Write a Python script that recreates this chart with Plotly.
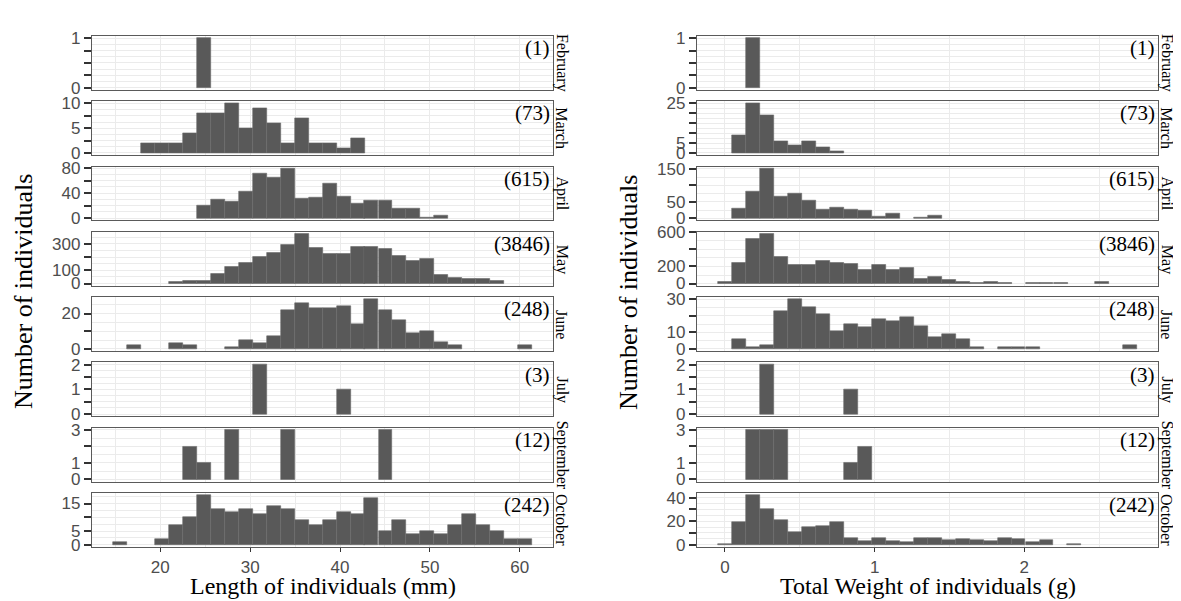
import plotly.graph_objects as go

W, H = 1181, 601

months = ["February", "March", "April", "May", "June", "July", "September", "October"]
totals = ["(1)", "(73)", "(615)", "(3846)", "(248)", "(3)", "(12)", "(242)"]

# histogram bin centres (shared by all panels of a column)
len_bins = [15.51, 17.07, 18.62, 20.18, 21.73, 23.29, 24.84, 26.40, 27.95, 29.51,
            31.06, 32.62, 34.17, 35.73, 37.28, 38.84, 40.39, 41.95, 43.50, 45.06,
            46.61, 48.17, 49.72, 51.28, 52.83, 54.39, 55.94, 57.50, 59.05, 60.61]
wt_bins = [0.000, 0.093, 0.187, 0.280, 0.374, 0.467, 0.560, 0.654, 0.747, 0.841,
           0.934, 1.027, 1.121, 1.214, 1.308, 1.401, 1.494, 1.588, 1.681, 1.775,
           1.868, 1.961, 2.055, 2.148, 2.242, 2.335, 2.428, 2.522, 2.615, 2.709]

# Length counts per month
len_feb = [0,0,0,0,0,0,1,0,0,0, 0,0,0,0,0,0,0,0,0,0, 0,0,0,0,0,0,0,0,0,0]
len_mar = [0,0,2,2,2,4,8,8,10,5, 9,6,2,7,2,2,1,3,0,0, 0,0,0,0,0,0,0,0,0,0]
len_apr = [0,0,0,0,0,0,21,30,27,43, 72,65,79,32,33,56,35,24,28,28, 16,16,1,4,0,0,0,0,0,0]
len_may = [0,0,0,0,10,18,20,73,127,154, 205,234,295,373,266,222,222,280,273,259,
           212,173,183,63,44,39,32,24,0,0]
len_jun = [0,2,0,0,3,2,0,0,1,5, 3,7,22,26,23,23,24,14,28,22, 16,9,10,4,2,0,0,0,0,2]
len_jul = [0,0,0,0,0,0,0,0,0,0, 2,0,0,0,0,0,1,0,0,0, 0,0,0,0,0,0,0,0,0,0]
len_sep = [0,0,0,0,0,2,1,0,3,0, 0,0,3,0,0,0,0,0,0,3, 0,0,0,0,0,0,0,0,0,0]
len_oct = [1,0,0,2,7,10,18,13,12,13, 11,14,13,9,7,9,12,11,17,5, 9,4,5,4,7,11,7,5,2,2]

# Weight counts per month
wt_feb = [0,0,1,0,0,0,0,0,0,0, 0,0,0,0,0,0,0,0,0,0, 0,0,0,0,0,0,0,0,0,0]
wt_mar = [0,9,25,19,6,4,6,3,1,0, 0,0,0,0,0,0,0,0,0,0, 0,0,0,0,0,0,0,0,0,0]
wt_apr = [0,28,81,150,67,74,54,26,33,25, 22,6,14,0,2,9,0,0,0,0, 0,0,0,0,0,0,0,0,0,0]
wt_may = [20,247,529,580,314,220,220,263,243,231, 157,220,157,188,59,82,39,24,12,16,
          8,0,4,8,4,0,0,24,0,0]
wt_jun = [0,6,1,2,23,30,25,21,11,15, 13,18,17,19,14,7,9,6,1,0, 1,1,1,0,0,0,0,0,0,2]
wt_jul = [0,0,0,2,0,0,0,0,0,1, 0,0,0,0,0,0,0,0,0,0, 0,0,0,0,0,0,0,0,0,0]
wt_sep = [0,0,3,3,3,0,0,0,0,1, 2,0,0,0,0,0,0,0,0,0, 0,0,0,0,0,0,0,0,0,0]
wt_oct = [1,19,42,30,21,11,15,16,19,6, 3,6,3,2,6,6,4,5,4,3, 6,5,2,4,0,1,0,0,0,0]

len_counts = [len_feb, len_mar, len_apr, len_may, len_jun, len_jul, len_sep, len_oct]
wt_counts = [wt_feb, wt_mar, wt_apr, wt_may, wt_jun, wt_jul, wt_sep, wt_oct]

# y tick values / labels per panel
len_yticks = [[0, 0.25, 0.5, 0.75, 1], [0, 2.5, 5, 7.5, 10], [0, 20, 40, 60, 80], [0, 100, 200, 300],
              [0, 10, 20], [0, 0.5, 1, 1.5, 2], [0, 1, 2, 3], [0, 5, 10, 15]]
len_ylabels = [["0", "", "", "", "1"], ["0", "", "5", "", "10"], ["0", "", "40", "", "80"], ["0", "100", "", "300"],
               ["0", "", "20"], ["0", "", "1", "", "2"], ["0", "1", "", "3"], ["0", "5", "", "15"]]
wt_yticks = [[0, 0.25, 0.5, 0.75, 1], [0, 5, 10, 15, 20, 25], [0, 50, 100, 150], [0, 200, 400, 600],
             [0, 10, 20, 30], [0, 0.5, 1, 1.5, 2], [0, 1, 2, 3], [0, 10, 20, 30, 40]]
wt_ylabels = [["0", "", "", "", "1"], ["0", "5", "", "", "", "25"], ["0", "50", "", "150"], ["0", "200", "", "600"],
              ["0", "10", "", "30"], ["0", "", "1", "", "2"], ["0", "1", "", "3"], ["0", "", "20", "", "40"]]

len_xticks = [20, 30, 40, 50, 60]
len_xminor = [15, 25, 35, 45, 55]
wt_xticks = [0, 1, 2]
wt_xminor = [0.5, 1.5, 2.5]

len_title = "Length of individuals (mm)"
wt_title = "Total Weight of individuals (g)"
y_title = "Number of individuals"

# ---- layout geometry (pixels) ----
col_px = [(84, 545), (689, 1150)]
x_ranges = [[12.4, 63.7], [-0.187, 2.893]]
bin_widths = [1.555, 0.0934]
panel_top0, panel_pitch, panel_h = 19.5, 67.2, 55.5

BAR = "#595959"
GRID = "#EBEBEB"
BORDER = "#5a5a5a"
TICKC = "#333333"
SERIF = "Liberation Serif, Times New Roman, serif"
SANS = "Liberation Sans, Arial, sans-serif"
TICKFONT = dict(family=SANS, size=17, color="#4D4D4D")


def px_x(x):
    return x / W


def px_y(y):
    return 1 - y / H


fig = go.Figure()
layout = dict(width=W, height=H, margin=dict(l=0, r=0, t=0, b=0),
              paper_bgcolor="white", plot_bgcolor="white", showlegend=False,
              bargap=0)
annotations = []

columns = [
    (len_bins, len_counts, len_yticks, len_ylabels, len_xticks, len_xminor, len_title),
    (wt_bins, wt_counts, wt_yticks, wt_ylabels, wt_xticks, wt_xminor, wt_title),
]

for c, (bins, counts_list, yt, yl, xt, xm, xtitle) in enumerate(columns):
    x0p, x1p = col_px[c]
    for i in range(8):
        n = c * 8 + i + 1
        xa = "x" if n == 1 else f"x{n}"
        ya = "y" if n == 1 else f"y{n}"
        xkey = "xaxis" if n == 1 else f"xaxis{n}"
        ykey = "yaxis" if n == 1 else f"yaxis{n}"
        counts = counts_list[i]
        xs = [b for b, v in zip(bins, counts) if v > 0]
        ys = [v for v in counts if v > 0]
        fig.add_trace(go.Bar(x=xs, y=ys, width=bin_widths[c], xaxis=xa, yaxis=ya,
                             marker=dict(color=BAR, line=dict(color="#6a6a6a", width=0.6)),
                             hoverinfo="x+y"))
        top = panel_top0 + i * panel_pitch
        bot = top + panel_h
        M = max(counts)
        bottom_row = (i == 7)
        ticks = yt[i]
        step = ticks[1] - ticks[0]
        yminor = [t + step / 2 for t in ticks]
        layout[xkey] = dict(
            domain=[px_x(x0p), px_x(x1p)], range=x_ranges[c], anchor=ya,
            tickmode="array", tickvals=xt, showgrid=True, gridcolor=GRID, gridwidth=1.2,
            minor=dict(tickvals=xm, showgrid=True, gridcolor=GRID, gridwidth=0.9, ticks=""),
            showline=True, mirror=True, linecolor=BORDER, linewidth=1.3,
            zeroline=False,
            showticklabels=bottom_row, ticks="outside" if bottom_row else "",
            ticklen=4, tickwidth=1.3, tickcolor=TICKC,
            tickfont=TICKFONT,
        )
        layout[ykey] = dict(
            domain=[px_y(bot), px_y(top)], range=[-0.045 * M, 1.045 * M], anchor=xa,
            tickmode="array", tickvals=ticks, ticktext=yl[i],
            showgrid=True, gridcolor=GRID, gridwidth=1.0,
            minor=dict(tickvals=yminor, showgrid=True, gridcolor=GRID, gridwidth=0.7, ticks=""),
            showline=True, mirror=True, linecolor=BORDER, linewidth=1.3,
            zeroline=False, ticks="outside", ticklen=7, tickwidth=1.6, tickcolor=TICKC,
            tickfont=TICKFONT,
        )
        # count label (top-right inside panel)
        annotations.append(dict(text=totals[i], xref="paper", yref="paper",
                                x=px_x(x1p - 1), y=px_y(top - 2), xanchor="right", yanchor="top",
                                showarrow=False, font=dict(family=SERIF, size=21, color="black")))
        # facet strip label on the right
        annotations.append(dict(text=months[i], xref="paper", yref="paper",
                                x=px_x(x1p + 9), y=px_y((top + bot) / 2), xanchor="center", yanchor="middle",
                                textangle=90, showarrow=False,
                                font=dict(family=SERIF, size=16, color="black")))
    # x title
    annotations.append(dict(text=xtitle, xref="paper", yref="paper",
                            x=px_x((x0p + x1p) / 2), y=px_y(586), xanchor="center", yanchor="middle",
                            showarrow=False, font=dict(family=SERIF, size=24, color="black")))
    # y title
    annotations.append(dict(text=y_title, xref="paper", yref="paper",
                            x=px_x(x0p - 68), y=px_y(283), xanchor="center", yanchor="middle",
                            textangle=-90, showarrow=False,
                            font=dict(family=SERIF, size=26, color="black")))

layout["annotations"] = annotations
fig.update_layout(**layout)
fig.write_html("out.html")
